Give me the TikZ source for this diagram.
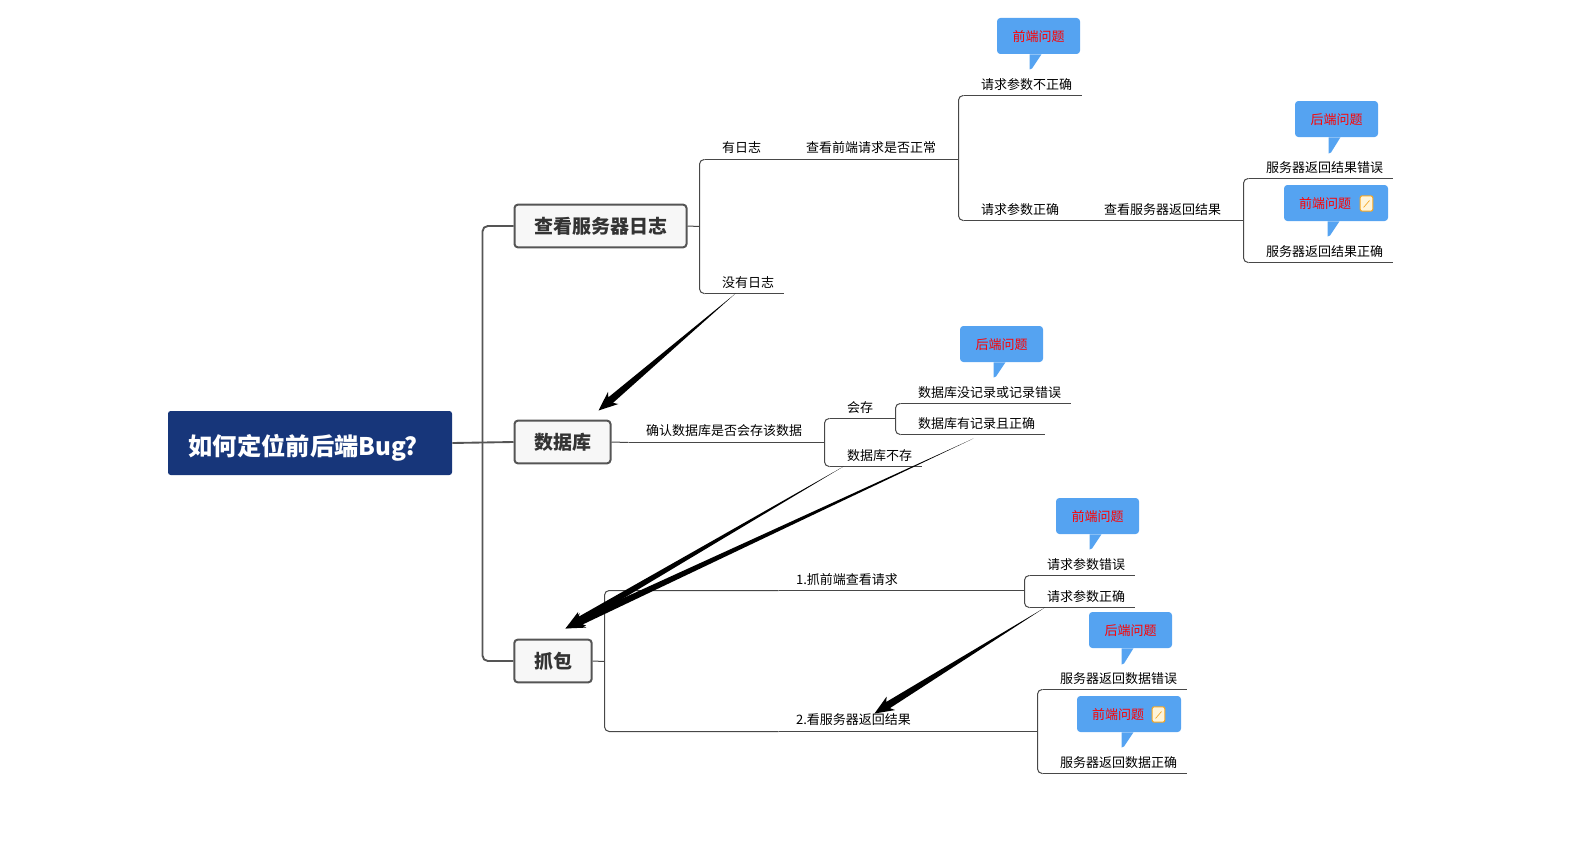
\documentclass[tikz,border=0pt]{standalone}
\usepackage{fontspec}
\setmainfont{Noto Sans CJK SC}
\usetikzlibrary{calc}
\definecolor{rootblue}{HTML}{17367A}
\definecolor{notefill}{HTML}{55A3F1}
\definecolor{linegray}{HTML}{555555}
\definecolor{icondraw}{HTML}{F5A623}
\definecolor{iconfill}{HTML}{FFF4D9}
\tikzset{
  rootbox/.style={fill=rootblue, text=white, rounded corners=2pt, minimum width=213pt, minimum height=48pt, inner sep=0pt, text height=20.5pt, text depth=2.2pt, font=\fontsize{18.2}{22}\selectfont\bfseries},
  mainbox/.style={draw=linegray, line width=1.5pt, fill=black!3, text=black!80, rounded corners=2.5pt, minimum height=32pt, inner sep=0pt, font=\fontsize{14.25}{17}\selectfont\bfseries},
  topic/.style={anchor=south west, inner xsep=0pt, inner ysep=0pt, minimum height=16pt, font=\fontsize{9.75}{12}\selectfont, execute at begin node=\hspace*{13pt}, execute at end node=\hspace*{7.1pt}},
  hightopic/.style={topic, minimum height=17.5pt},
  note/.style={fill=notefill, text=red, rounded corners=2.5pt, minimum width=62.25pt, minimum height=27pt, inner sep=0pt, text height=9.4pt, text depth=1.2pt, font=\fontsize{9.75}{12}\selectfont},
  wide/.style={minimum width=78pt},
  icon/.style={draw=icondraw, fill=iconfill, line width=.8pt, rounded corners=1.5pt, minimum width=9.5pt, minimum height=11.5pt, inner sep=0pt},
  trunk/.style={draw=linegray, line width=1.4pt, rounded corners=4pt},
  twig/.style={draw=black!72, line width=.75pt, rounded corners=3.5pt},
}
\newcommand{\fatarrow}[2]{\fill (#1) -- ($(#2)!12pt!(#1)!2.7pt!90:(#1)$) -- ($(#2)!14.5pt!(#1)!6pt!90:(#1)$) -- (#2) -- ($(#2)!14.5pt!(#1)!6pt!-90:(#1)$) -- ($(#2)!12pt!(#1)!2.7pt!-90:(#1)$) -- cycle;}
\begin{document}
\begin{tikzpicture}[x=.75pt,y=-.75pt]
\useasboundingbox (-.5,-.5) rectangle (1581.5,841.5);
% main topics
\node[rootbox] (root) at (309.5,442.5){如何定位前后端Bug?\hspace*{10pt}};
\node[mainbox, minimum width=129pt] (srv) at (600,225.5){查看服务器日志};
\node[mainbox, minimum width=72pt] (db) at (562,441.5){数据库};
\node[mainbox, minimum width=58pt] (pkt) at (552.5,660.5){抓包};
\coordinate (mainbus) at (482,443);
\draw[trunk] (root.east) -- (db.west);
\draw[trunk] (srv.west) -| (mainbus) |- (pkt.west);
% server log
\coordinate (logbus) at (699,226);
\coordinate (reqbus) at (958,159);
\coordinate (resbus) at (1243,220);
\node[hightopic] (ylog) at (704,159){有日志};
\node[topic] (nolog) at (704,293){没有日志};
\node[hightopic] (chk) at (788,159){查看前端请求是否正常};
\node[topic] (badreq) at (963,95){请求参数不正确};
\node[topic] (okreq) at (963,220){请求参数正确};
\node[topic] (see) at (1086,220){查看服务器返回结果};
\node[topic] (sverr) at (1248,178){服务器返回结果错误};
\node[topic] (svok) at (1248,262){服务器返回结果正确};
\draw[twig] (srv.east) -- (logbus);
\draw[twig] (ylog.south west) -| (logbus) |- (nolog.south west);
\draw[twig] (ylog.south east) -- (chk.south west);
\draw[twig] (chk.south east) -- (reqbus);
\draw[twig] (badreq.south west) -| (reqbus) |- (okreq.south west);
\draw[twig] (okreq.south east) -- (see.south west);
\draw[twig] (see.south east) -- (resbus);
\draw[twig] (sverr.south west) -| (resbus) |- (svok.south west);
% database
\coordinate (dbbus) at (824,442);
\coordinate (savebus) at (895,418);
\node[hightopic] (dbq) at (628,442){确认数据库是否会存该数据};
\node[topic] (save) at (829,418){会存};
\node[topic] (nosave) at (829,466){数据库不存};
\node[topic] (dbbad) at (900,403){数据库没记录或记录错误};
\node[topic] (dbok) at (900,434){数据库有记录且正确};
\draw[twig] (db.east) -- (dbq.south west);
\draw[twig] (dbq.south east) -- (dbbus);
\draw[twig] (save.south west) -| (dbbus) |- (nosave.south west);
\draw[twig] (save.south east) -- (savebus);
\draw[twig] (dbbad.south west) -| (savebus) |- (dbok.south west);
% capture
\coordinate (capbus) at (604,661);
\coordinate (req2bus) at (1024,590);
\coordinate (databus) at (1037,731);
\node[topic] (cap1) at (778,590){1.抓前端查看请求};
\node[hightopic] (cap2) at (778,731){2.看服务器返回结果};
\node[topic] (reqerr) at (1029,575){请求参数错误};
\node[topic] (reqok) at (1029,607){请求参数正确};
\node[topic] (dataerr) at (1042,689){服务器返回数据错误};
\node[topic] (dataok) at (1042,773){服务器返回数据正确};
\draw[twig] (pkt.east) -- (capbus);
\draw[twig] (cap1.south west) -| (capbus) |- (cap2.south west);
\draw[twig] (cap1.south east) -- (req2bus);
\draw[twig] (cap2.south east) -- (databus);
\draw[twig] (reqerr.south west) -| (req2bus) |- (reqok.south west);
\draw[twig] (dataerr.south west) -| (databus) |- (dataok.south west);
% underlines
\foreach \n in {ylog,nolog,chk,badreq,okreq,see,sverr,svok,dbq,save,nosave,dbbad,dbok,cap1,cap2,reqerr,reqok,dataerr,dataok}
  \draw[twig] (\n.south west) -- (\n.south east);
% notes
\node[note] (noteA) at (1038,35.5){前端问题};
\node[note] (noteB) at (1336,118.5){后端问题};
\node[note, wide] (noteC) at (1335.5,202.5){前端问题\hspace*{16.5pt}};
\node[note] (noteD) at (1001,343.5){后端问题};
\node[note] (noteE) at (1097,515.5){前端问题};
\node[note] (noteF) at (1130,629.5){后端问题};
\node[note, wide] (noteG) at (1128.5,713.5){前端问题\hspace*{16.5pt}};
\foreach \n/\x/\y in {noteA/1029/69,noteB/1328/153,noteC/1327/236,noteD/993/377,noteE/1089/549,noteF/1121/664,noteG/1121/747}{
  \coordinate (tail) at (\x,\y);
  \fill[notefill] (tail) -- (\n.south -| tail) -- ++(12,0) -- ($(tail)+(2.5,-1)$) -- cycle;
}
\node[icon] (iconC) at (1366,203){};
\node[icon] (iconG) at (1158,714){};
\foreach \n in {iconC,iconG}
  \draw[icondraw, line width=.5pt] ($(\n.center)+(-3,4)$) -- ($(\n.center)+(3,-3)$);
% arrows between branches
\coordinate (dbtail) at (735,293);
\coordinate (dbtip) at (598,410);
\coordinate (pkttailA) at (843,466);
\coordinate (pkttailB) at (973,438);
\coordinate (pkttip) at (565,628);
\coordinate (captail) at (1044.5,607);
\coordinate (captip) at (874,713);
\fatarrow{dbtail}{dbtip}
\fatarrow{pkttailA}{pkttip}
\fatarrow{pkttailB}{pkttip}
\fatarrow{captail}{captip}
\end{tikzpicture}
\end{document}
